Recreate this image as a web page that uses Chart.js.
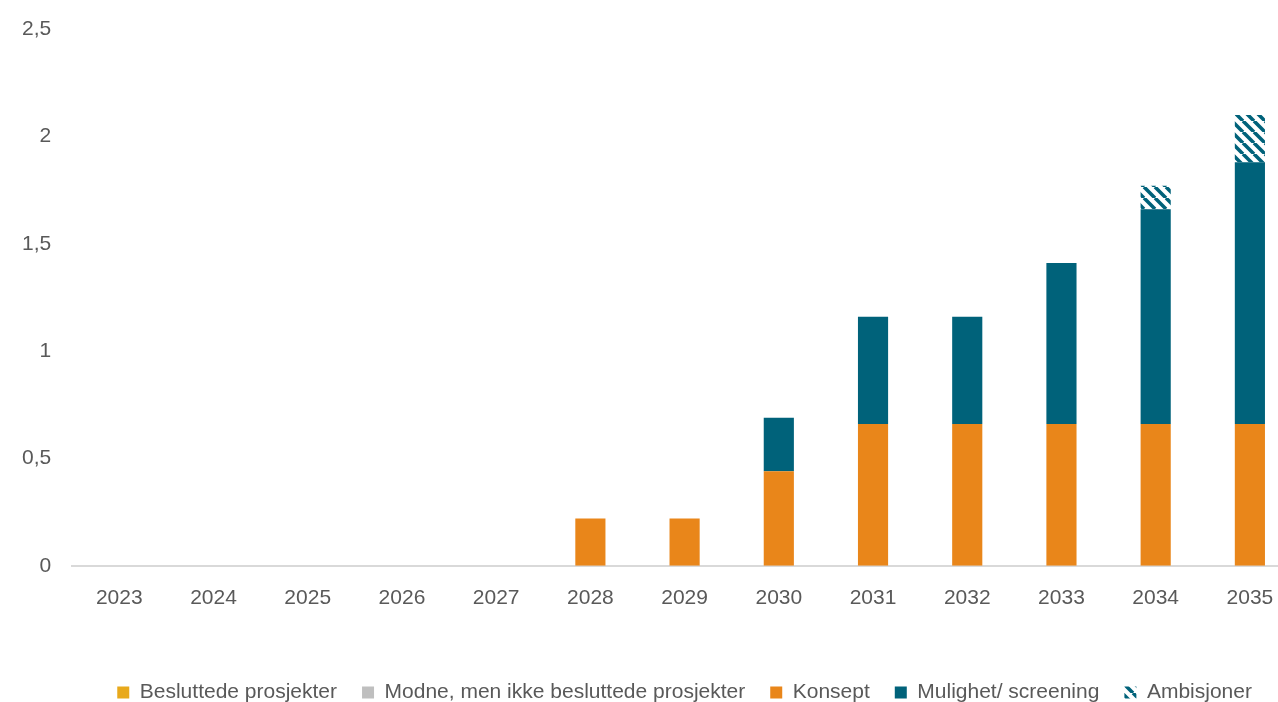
<!DOCTYPE html>
<html>
<head>
<meta charset="utf-8">
<script src="https://cdn.jsdelivr.net/npm/chart.js@4.4.1/dist/chart.umd.min.js"></script>
<style>
  html, body { margin: 0; padding: 0; overflow: hidden; background: #fff; width: 1278px; height: 702px; }
  #frame { width: 1278px; height: 702px; overflow: hidden; position: relative; }
  #wrap { width: 1300px; height: 713px; position: absolute; left: 0; top: 0; }
</style>
</head>
<body>
<div id="frame"><div id="wrap"><canvas id="barChart"></canvas></div></div>
<script>
let years = ['2023', '2024', '2025', '2026', '2027', '2028', '2029', '2030', '2031', '2032', '2033', '2034', '2035'];
let besluttede = [0, 0, 0, 0, 0, 0, 0, 0, 0, 0, 0, 0, 0];
let modne = [0, 0, 0, 0, 0, 0, 0, 0, 0, 0, 0, 0, 0];
let konsept = [0, 0, 0, 0, 0, 0.22, 0.22, 0.44, 0.66, 0.66, 0.66, 0.66, 0.66];
let mulighet = [0, 0, 0, 0, 0, 0, 0, 0.25, 0.5, 0.5, 0.75, 1.0, 1.22];
let ambisjoner = [0, 0, 0, 0, 0, 0, 0, 0, 0, 0, 0, 0.11, 0.22];
let yTicks = [0, 0.5, 1, 1.5, 2, 2.5];

let teal = '#00627A';
let orange = '#E9861A';

// diagonal hatch for Ambisjoner
function hatch(color) {
  let s = 11;
  let c = document.createElement('canvas');
  c.width = s;
  c.height = s;
  let g = c.getContext('2d');
  g.fillStyle = '#fff';
  g.fillRect(0, 0, s, s);
  g.strokeStyle = color;
  g.lineWidth = 3.6;
  g.beginPath();
  for (let x0 = -s; x0 <= s; x0 += s) {
    g.moveTo(x0, 0);
    g.lineTo(x0 + s, s);
  }
  g.stroke();
  return g.createPattern(c, 'repeat');
}

let ctx = document.getElementById('barChart').getContext('2d');
let font = { family: "'Liberation Sans', Arial, sans-serif", size: 21 };

let myChart = new Chart(ctx, {
  type: 'bar',
  data: {
    labels: years,
    datasets: [
      { label: 'Besluttede prosjekter', data: besluttede, backgroundColor: '#E8A91B' },
      { label: 'Modne, men ikke besluttede prosjekter', data: modne, backgroundColor: '#BFBFBF' },
      { label: 'Konsept', data: konsept, backgroundColor: orange },
      { label: 'Mulighet/ screening', data: mulighet, backgroundColor: teal },
      { label: 'Ambisjoner', data: ambisjoner, backgroundColor: hatch(teal) }
    ]
  },
  options: {
    responsive: true,
    maintainAspectRatio: false,
    animation: false,
    layout: { padding: { top: 29, right: 3, left: 9, bottom: 0 } },
    datasets: {
      bar: { categoryPercentage: 1, barPercentage: 0.32 }
    },
    scales: {
      x: {
        stacked: true,
        grid: { display: false },
        border: { display: true, color: '#D9D9D9', width: 2 },
        ticks: { color: '#595959', font: font, padding: 12, maxRotation: 0 },
        afterFit: (scale) => { scale.height += 34; }
      },
      y: {
        stacked: true,
        min: 0,
        max: 2.5,
        grid: { display: false },
        border: { display: false },
        afterBuildTicks: (scale) => {
          scale.ticks = yTicks.map(v => ({ value: v }));
        },
        ticks: {
          color: '#595959',
          font: font,
          padding: 13,
          callback: (value) => String(value).replace('.', ',')
        }
      }
    },
    plugins: {
      tooltip: { enabled: false },
      legend: {
        position: 'bottom',
        fullSize: false,
        labels: {
          color: '#595959',
          font: font,
          boxWidth: 12,
          boxHeight: 12,
          padding: 25
        }
      }
    }
  }
});
</script>
</body>
</html>
